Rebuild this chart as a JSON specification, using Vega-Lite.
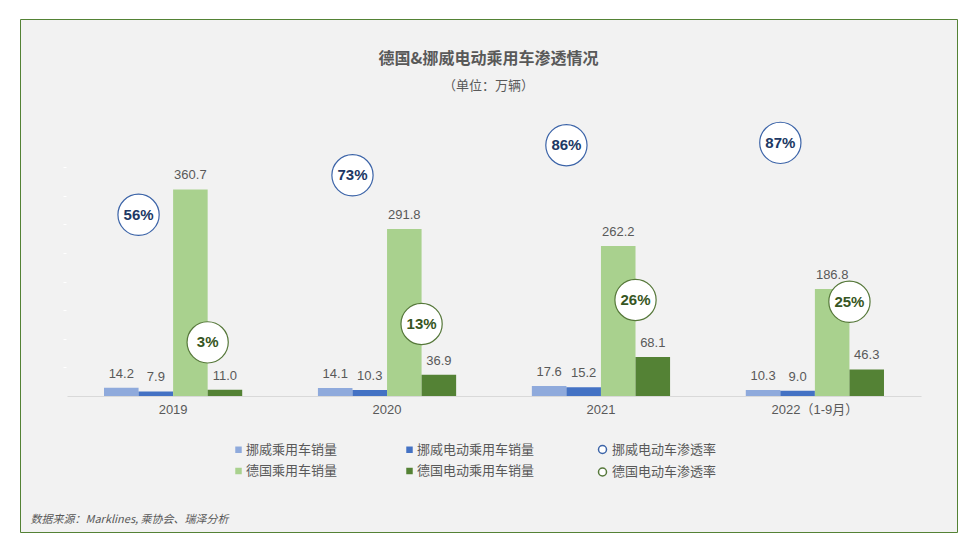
{
  "$schema": "https://vega.github.io/schema/vega-lite/v6.json",
  "autosize": "none",
  "width": 937,
  "height": 513,
  "padding": {"left": 20, "top": 19, "right": 21, "bottom": 19},
  "background": "white",
  "title": {
    "text": "德国&挪威电动乘用车渗透情况",
    "subtitle": "（单位：万辆）",
    "anchor": "middle",
    "frame": "group",
    "font": "Noto Sans CJK SC",
    "fontSize": 16,
    "fontWeight": "bold",
    "color": "#595959",
    "subtitleFont": "Noto Sans CJK SC",
    "subtitleFontSize": 13,
    "subtitleColor": "#595959",
    "subtitlePadding": 13,
    "offset": 0,
    "dy": 74
  },
  "datasets": {
    "sales": [
      {"year": "2019", "series": "挪威乘用车销量", "value": 14.2},
      {"year": "2019", "series": "挪威电动乘用车销量", "value": 7.9},
      {"year": "2019", "series": "德国乘用车销量", "value": 360.7},
      {"year": "2019", "series": "德国电动乘用车销量", "value": 11.0},
      {"year": "2020", "series": "挪威乘用车销量", "value": 14.1},
      {"year": "2020", "series": "挪威电动乘用车销量", "value": 10.3},
      {"year": "2020", "series": "德国乘用车销量", "value": 291.8},
      {"year": "2020", "series": "德国电动乘用车销量", "value": 36.9},
      {"year": "2021", "series": "挪威乘用车销量", "value": 17.6},
      {"year": "2021", "series": "挪威电动乘用车销量", "value": 15.2},
      {"year": "2021", "series": "德国乘用车销量", "value": 262.2},
      {"year": "2021", "series": "德国电动乘用车销量", "value": 68.1},
      {"year": "2022（1-9月）", "series": "挪威乘用车销量", "value": 10.3},
      {"year": "2022（1-9月）", "series": "挪威电动乘用车销量", "value": 9.0},
      {"year": "2022（1-9月）", "series": "德国乘用车销量", "value": 186.8},
      {"year": "2022（1-9月）", "series": "德国电动乘用车销量", "value": 46.3}
    ],
    "rates": [
      {"year": "2019", "country": "挪威电动车渗透率", "rate": 56, "label": "56%"},
      {"year": "2019", "country": "德国电动车渗透率", "rate": 3, "label": "3%"},
      {"year": "2020", "country": "挪威电动车渗透率", "rate": 73, "label": "73%"},
      {"year": "2020", "country": "德国电动车渗透率", "rate": 13, "label": "13%"},
      {"year": "2021", "country": "挪威电动车渗透率", "rate": 86, "label": "86%"},
      {"year": "2021", "country": "德国电动车渗透率", "rate": 26, "label": "26%"},
      {"year": "2022（1-9月）", "country": "挪威电动车渗透率", "rate": 87, "label": "87%"},
      {"year": "2022（1-9月）", "country": "德国电动车渗透率", "rate": 25, "label": "25%"}
    ]
  },
  "encoding": {
    "x": {
      "field": "year",
      "type": "nominal",
      "sort": null,
      "scale": {"range": [47, 901], "paddingInner": 0.354, "paddingOuter": 0.173},
      "axis": {
        "orient": "bottom",
        "offset": -136,
        "domain": true,
        "domainColor": "#d9d9d9",
        "domainWidth": 1,
        "ticks": false,
        "grid": false,
        "labelAngle": 0,
        "labelPadding": 7,
        "labelFont": "Liberation Sans, Noto Sans CJK SC",
        "labelFontSize": 13,
        "labelColor": "#595959",
        "title": "数据来源：Marklines, 乘协会、瑞泽分析",
        "titleX": 10,
        "titleY": 123,
        "titleAlign": "left",
        "titleBaseline": "middle",
        "titleFont": "Noto Sans CJK SC",
        "titleFontSize": 11,
        "titleFontStyle": "italic",
        "titleFontWeight": "normal",
        "titleColor": "#595959"
      }
    }
  },
  "layer": [
    {
      "data": {"name": "sales"},
      "encoding": {
        "xOffset": {
          "field": "series",
          "type": "nominal",
          "sort": ["挪威乘用车销量", "挪威电动乘用车销量", "德国乘用车销量", "德国电动乘用车销量"]
        },
        "y": {
          "field": "value",
          "type": "quantitative",
          "scale": {"domain": [0, 400], "range": [377, 148]},
          "axis": {
            "orient": "left",
            "offset": -46,
            "domain": false,
            "labels": false,
            "grid": false,
            "ticks": true,
            "tickColor": "white",
            "tickSize": 3,
            "values": [50, 100, 150, 200, 250, 300, 350, 400],
            "title": null
          }
        }
      },
      "layer": [
        {
          "mark": {"type": "bar"},
          "encoding": {
            "color": {
              "field": "series",
              "type": "nominal",
              "scale": {
                "domain": ["挪威乘用车销量", "挪威电动乘用车销量", "德国乘用车销量", "德国电动乘用车销量"],
                "range": ["#8faadc", "#4472c4", "#a9d18e", "#548235"]
              },
              "legend": {
                "title": null,
                "orient": "none",
                "legendX": 212,
                "legendY": 424,
                "padding": 0,
                "direction": "horizontal",
                "columns": 2,
                "columnPadding": 65,
                "rowPadding": 7.5,
                "symbolType": "square",
                "symbolSize": 42,
                "symbolStrokeWidth": 0,
                "labelOffset": 1,
                "labelFont": "Noto Sans CJK SC",
                "labelFontSize": 13,
                "labelColor": "#595959"
              }
            }
          }
        },
        {
          "mark": {
            "type": "text",
            "baseline": "alphabetic",
            "dy": -10,
            "font": "Liberation Sans",
            "fontSize": 13,
            "color": "#595959"
          },
          "encoding": {
            "text": {"field": "value", "type": "quantitative", "format": ".1f"}
          }
        }
      ]
    },
    {
      "data": {"name": "rates"},
      "encoding": {
        "xOffset": {
          "field": "country",
          "type": "nominal",
          "scale": {"domain": ["挪威电动车渗透率", "德国电动车渗透率"]}
        },
        "stroke": {
          "field": "country",
          "type": "nominal",
          "scale": {
            "domain": ["挪威电动车渗透率", "德国电动车渗透率"],
            "range": ["#3c64a8", "#56783a"]
          },
          "legend": {
            "title": null,
            "orient": "none",
            "legendX": 576,
            "legendY": 424,
            "padding": 0,
            "direction": "vertical",
            "rowPadding": 7.5,
            "symbolType": "circle",
            "symbolSize": 64,
            "symbolStrokeWidth": 1.5,
            "symbolFillColor": "white",
            "labelOffset": 3,
            "labelFont": "Noto Sans CJK SC",
            "labelFontSize": 13,
            "labelColor": "#595959"
          }
        }
      },
      "layer": [
        {
          "transform": [{"filter": "datum.country === '挪威电动车渗透率'"}],
          "encoding": {
            "y": {
              "field": "rate",
              "type": "quantitative",
              "scale": {"domain": [0, 100], "range": [325.7, 93.7]},
              "axis": null
            }
          },
          "layer": [
            {
              "mark": {
                "type": "point",
                "shape": "circle",
                "filled": true,
                "fill": "white",
                "opacity": 1,
                "size": 1700,
                "strokeWidth": 1.2
              }
            },
            {
              "mark": {
                "type": "text",
                "baseline": "middle",
                "align": "center",
                "font": "Liberation Sans",
                "fontSize": 15,
                "fontWeight": "bold",
                "color": "#203864"
              },
              "encoding": {
                "text": {"field": "label", "type": "nominal"},
                "stroke": {"value": null}
              }
            }
          ]
        },
        {
          "transform": [{"filter": "datum.country === '德国电动车渗透率'"}],
          "encoding": {
            "y": {
              "field": "rate",
              "type": "quantitative",
              "scale": {"domain": [0, 100], "range": [328.9, 144.4]},
              "axis": null
            }
          },
          "layer": [
            {
              "mark": {
                "type": "point",
                "shape": "circle",
                "filled": true,
                "fill": "white",
                "opacity": 1,
                "size": 1700,
                "strokeWidth": 1.2
              }
            },
            {
              "mark": {
                "type": "text",
                "baseline": "middle",
                "align": "center",
                "font": "Liberation Sans",
                "fontSize": 15,
                "fontWeight": "bold",
                "color": "#375623"
              },
              "encoding": {
                "text": {"field": "label", "type": "nominal"},
                "stroke": {"value": null}
              }
            }
          ]
        }
      ],
      "resolve": {"scale": {"y": "independent"}}
    }
  ],
  "resolve": {"scale": {"y": "independent", "xOffset": "independent", "color": "independent"}},
  "config": {
    "view": {"fill": "#f2f2f2", "stroke": "#548235", "strokeWidth": 1}
  }
}
